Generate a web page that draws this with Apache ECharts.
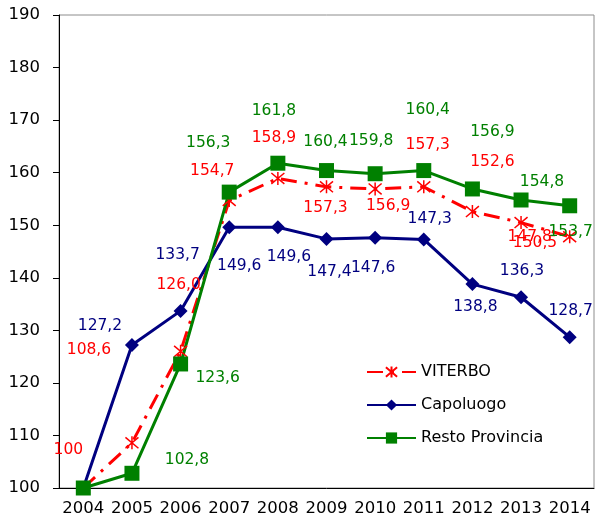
<!DOCTYPE html>
<html>
<head>
<meta charset="utf-8">
<script src="https://cdn.jsdelivr.net/npm/echarts@6/dist/echarts.min.js"></script>
<style>
  html, body { margin: 0; padding: 0; background: #fff; }
  #chart { width: 595px; height: 529px; }
</style>
</head>
<body>
<div id="chart"></div>
<script>
const years = ['2004', '2005', '2006', '2007', '2008', '2009', '2010', '2011', '2012', '2013', '2014']
const viterbo = [100, 108.6, 126.0, 154.7, 158.9, 157.3, 156.9, 157.3, 152.6, 150.5, 147.8]
const capoluogo = [100, 127.2, 133.7, 149.6, 149.6, 147.4, 147.6, 147.3, 138.8, 136.3, 128.7]
const restoProvincia = [100, 102.8, 123.6, 156.3, 161.8, 160.4, 159.8, 160.4, 156.9, 154.8, 153.7]

// label placement relative to each point (null = label hidden)
const viterboLabelOffsets = [[-15, -38], [-43, -93], [-2, -66], [-17, -30], [-4, -40], [-1, 21], [13, 17], [4, -42], [20, -50], [14, 20], [-40, 0]]
const capoluogoLabelOffsets = [null, [-32, -19], [-3, -56], [10, 39], [11, 30], [3, 33], [-2, 30], [6, -20], [3, 23], [1, -26], [1, -26]]
const restoLabelOffsets = [null, [55, -13], [37, 14], [-21, -49], [-4, -52], [-1, -29], [-4, -33], [4, -61], [20, -57], [21, -18], [1, 26]]

const fmt = v => (v === 100 ? '100' : v.toFixed(1).replace('.', ','))

const withLabels = (values, offsets, color) =>
  values.map((v, i) => ({
    value: v,
    label: offsets[i]
      ? { show: true, position: 'inside', offset: offsets[i], color, fontSize: 15.5, formatter: p => fmt(p.value) }
      : { show: false }
  }))

const starPath = 'path://M0,0L10,10M10,0L0,10M5,-1L5,11'

const chart = echarts.init(document.getElementById('chart'))

const option = {
  animation: false,
  textStyle: { fontFamily: 'DejaVu Sans' },
  grid: {
    left: 59,
    top: 15,
    right: 1,
    bottom: 41,
    show: true,
    borderColor: '#8c8c8c',
    borderWidth: 1
  },
  legend: {
    orient: 'vertical',
    left: 361,
    top: 359,
    itemWidth: 49,
    itemHeight: 14,
    itemGap: 17,
    textStyle: { color: '#000', fontSize: 16, fontFamily: 'DejaVu Sans' },
    data: ['VITERBO', 'Capoluogo', 'Resto Provincia']
  },
  xAxis: {
    type: 'category',
    data: years,
    boundaryGap: true,
    axisLine: { lineStyle: { color: '#000', width: 1 } },
    axisTick: { interval: 0, length: 6, lineStyle: { color: '#000' } },
    axisLabel: { interval: 0, color: '#000', fontSize: 16.5, margin: 12 },
    splitLine: { show: false }
  },
  yAxis: {
    type: 'value',
    min: 100,
    max: 190,
    interval: 10,
    axisLine: { show: true, lineStyle: { color: '#000', width: 1 } },
    axisTick: { show: true, length: 6, lineStyle: { color: '#000' } },
    axisLabel: { color: '#000', fontSize: 16.5, margin: 19 },
    splitLine: { show: false }
  },
  series: [
    {
      name: 'VITERBO',
      type: 'line',
      data: withLabels(viterbo, viterboLabelOffsets, '#ff0000'),
      symbol: starPath,
      symbolSize: 13,
      lineStyle: { color: '#ff0000', width: 3, type: [16, 8, 3, 8] },
      itemStyle: { color: '#ff0000', borderColor: '#ff0000', borderWidth: 1.5 }
    },
    {
      name: 'Capoluogo',
      type: 'line',
      data: withLabels(capoluogo, capoluogoLabelOffsets, '#000080'),
      symbol: 'diamond',
      symbolSize: 14,
      lineStyle: { color: '#000080', width: 3 },
      itemStyle: { color: '#000080' }
    },
    {
      name: 'Resto Provincia',
      type: 'line',
      data: withLabels(restoProvincia, restoLabelOffsets, '#008000'),
      symbol: 'rect',
      symbolSize: 15,
      lineStyle: { color: '#008000', width: 3 },
      itemStyle: { color: '#008000' }
    }
  ]
}

chart.setOption(option)
</script>
</body>
</html>
